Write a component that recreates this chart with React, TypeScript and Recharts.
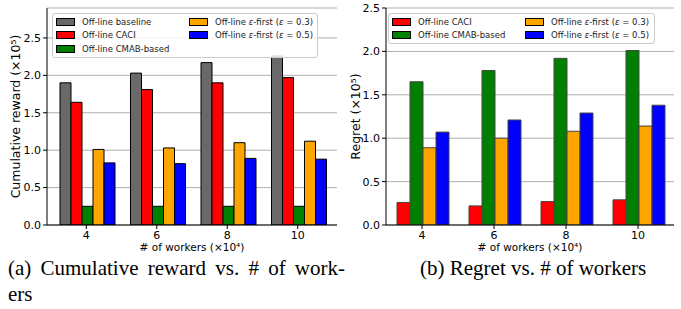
import { BarChart, Bar, XAxis, YAxis, CartesianGrid, Legend, Label } from 'recharts';

const workers = ['4', '6', '8', '10'];

// (a) cumulative reward, x10^5
const rewardBaseline = [1.9, 2.03, 2.17, 2.26];
const rewardCaci = [1.64, 1.81, 1.9, 1.97];
const rewardCmab = [0.25, 0.25, 0.25, 0.25];
const rewardEps03 = [1.01, 1.03, 1.1, 1.12];
const rewardEps05 = [0.83, 0.82, 0.89, 0.88];

// (b) regret, x10^5
const regretCaci = [0.26, 0.22, 0.27, 0.29];
const regretCmab = [1.65, 1.78, 1.92, 2.01];
const regretEps03 = [0.89, 1.0, 1.08, 1.14];
const regretEps05 = [1.07, 1.21, 1.29, 1.38];

const yTicks = [0, 0.5, 1.0, 1.5, 2.0, 2.5];

const COLORS = {
  baseline: '#696969',
  caci: '#ff0000',
  cmab: '#008000',
  eps03: '#ffa500',
  eps05: '#0000ff',
};

const rewardData = workers.map((w, i) => ({
  workers: w,
  baseline: rewardBaseline[i],
  caci: rewardCaci[i],
  cmab: rewardCmab[i],
  eps03: rewardEps03[i],
  eps05: rewardEps05[i],
}));

const regretData = workers.map((w, i) => ({
  workers: w,
  caci: regretCaci[i],
  cmab: regretCmab[i],
  eps03: regretEps03[i],
  eps05: regretEps05[i],
}));

const FONT = '"DejaVu Sans", sans-serif';
const SERIF = '"Liberation Serif", "Times New Roman", serif';

const epsName = (v: string) => (
  <>
    Off-line <i>ε</i>-first (<i>ε</i> = {v})
  </>
);

const NAMES: Record<string, any> = {
  baseline: 'Off-line baseline',
  caci: 'Off-line CACI',
  cmab: 'Off-line CMAB-based',
  eps03: epsName('0.3'),
  eps05: epsName('0.5'),
};

const LegendBox = ({ keys, rows }: { keys: string[]; rows: number }) => (
  <div
    style={{
      background: 'rgba(255,255,255,0.85)',
      border: '1px solid #cccccc',
      borderRadius: 3,
      padding: '1px 3px',
      display: 'grid',
      gridTemplateRows: `repeat(${rows}, 13.5px)`,
      gridAutoFlow: 'column',
      gridTemplateColumns: '133px auto',
      fontFamily: FONT,
      fontSize: 8.5,
      color: '#222',
      boxSizing: 'border-box',
    }}
  >
    {keys.map((k) => (
      <div key={k} style={{ display: 'flex', alignItems: 'center', whiteSpace: 'nowrap' }}>
        <span
          style={{
            display: 'inline-block',
            width: 17,
            height: 6,
            background: COLORS[k as keyof typeof COLORS],
            border: '1px solid #000',
            marginRight: 7,
          }}
        />
        <span>{NAMES[k]}</span>
      </div>
    ))}
  </div>
);

interface PanelProps {
  data: any[];
  keys: string[];
  yMax: number;
  yLabel: string;
  width: number;
  yAxisWidth: number;
  marginRight: number;
  padding: number;
  catGap: number;
  legendLeft: number;
  legendWidth: number;
  rows: number;
  edge: string;
}

const Panel = (p: PanelProps) => {
  const plotLeft = p.yAxisWidth;
  const plotRight = p.width - p.marginRight;
  return (
    <BarChart
      width={p.width}
      height={262}
      data={p.data}
      margin={{ top: 8, right: p.marginRight, bottom: 0, left: 0 }}
      barGap={0}
      barCategoryGap={p.catGap}
    >
      <CartesianGrid vertical={false} stroke="#b0b0b0" strokeWidth={1} />
      <XAxis
        dataKey="workers"
        height={37}
        padding={{ left: p.padding, right: p.padding }}
        tickSize={4}
        tickLine={{ stroke: '#000' }}
        axisLine={{ stroke: '#000' }}
        tick={{ fill: '#000', fontSize: 11, fontFamily: FONT }}
      >
        <Label
          content={() => (
            <text
              x={(plotLeft + plotRight) / 2}
              y={251}
              textAnchor="middle"
              fontSize={10.5}
              fontFamily={FONT}
              fill="#000"
            >
              # of workers (×10⁴)
            </text>
          )}
        />
      </XAxis>
      <XAxis
        xAxisId="top"
        dataKey="workers"
        orientation="top"
        height={0}
        tick={false}
        tickLine={false}
        axisLine={{ stroke: '#000' }}
      />
      <YAxis
        domain={[0, p.yMax]}
        ticks={yTicks}
        width={p.yAxisWidth}
        tickSize={4}
        tickLine={{ stroke: '#000' }}
        axisLine={{ stroke: '#000' }}
        tickFormatter={(v: number) => v.toFixed(1)}
        tick={{ fill: '#000', fontSize: 11, fontFamily: FONT }}
        allowDataOverflow
      >
        <Label
          content={() => (
            <text
              x={16}
              y={116.5}
              transform="rotate(-90, 16, 116.5)"
              textAnchor="middle"
              dominantBaseline="middle"
              fontSize={12.5}
              fontFamily={FONT}
              fill="#000"
            >
              {p.yLabel}
            </text>
          )}
        />
      </YAxis>
      <YAxis
        yAxisId="right"
        orientation="right"
        width={0}
        domain={[0, 1]}
        type="number"
        tick={false}
        tickLine={false}
        axisLine={{ stroke: '#000' }}
      />
      {p.keys.map((k) => (
        <Bar
          key={k}
          dataKey={k}
          fill={COLORS[k as keyof typeof COLORS]}
          stroke={p.edge}
          strokeWidth={1}
          isAnimationActive={false}
        />
      ))}
      <Legend
        layout="vertical"
        align="center"
        verticalAlign="middle"
        wrapperStyle={{ position: 'absolute', left: p.legendLeft, top: 13, width: p.legendWidth, height: 'auto' }}
        content={() => <LegendBox keys={p.keys} rows={p.rows} />}
      />
    </BarChart>
  );
};

export default function App() {
  return (
    <div
      style={{
        position: 'absolute',
        left: 0,
        top: 0,
        width: 681,
        height: 309,
        background: '#fff',
        overflow: 'hidden',
      }}
    >
      <div style={{ position: 'absolute', left: 0, top: 0 }}>
        <Panel
          data={rewardData}
          keys={['baseline', 'caci', 'cmab', 'eps03', 'eps05']}
          yMax={2.9}
          yLabel="Cumulative reward (×10⁵)"
          width={340}
          yAxisWidth={47}
          marginRight={3}
          padding={4}
          catGap={9}
          legendLeft={52}
          legendWidth={266}
          rows={3}
          edge="#000"
        />
      </div>
      <div style={{ position: 'absolute', left: 340, top: 0 }}>
        <Panel
          data={regretData}
          keys={['caci', 'cmab', 'eps03', 'eps05']}
          yMax={2.5}
          yLabel="Regret (×10⁵)"
          width={341}
          yAxisWidth={46}
          marginRight={7}
          padding={0}
          catGap={11}
          legendLeft={48}
          legendWidth={267}
          rows={2}
          edge="#444"
        />
      </div>
      <div
        style={{
          position: 'absolute',
          left: 8,
          top: 255,
          fontFamily: SERIF,
          fontSize: 21,
          lineHeight: '26px',
          color: '#000',
        }}
      >
        <div style={{ width: 337, textAlign: 'justify', textAlignLast: 'justify', whiteSpace: 'nowrap' }}>
          (a) Cumulative reward vs. # of work-
        </div>
        <div>ers</div>
      </div>
      <div
        style={{
          position: 'absolute',
          left: 420,
          top: 255,
          fontFamily: SERIF,
          fontSize: 21,
          lineHeight: '26px',
          color: '#000',
          whiteSpace: 'nowrap',
        }}
      >
        (b) Regret vs. # of workers
      </div>
    </div>
  );
}
